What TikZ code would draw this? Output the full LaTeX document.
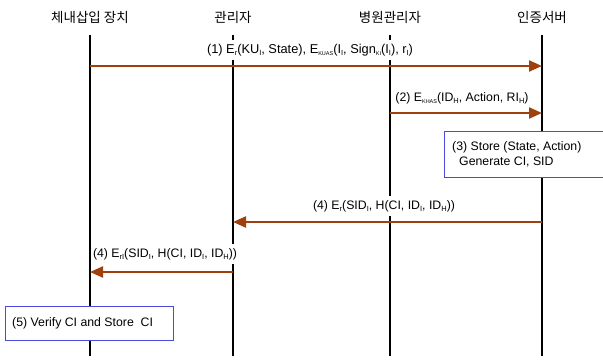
\documentclass[tikz,border=0pt]{standalone}
\usepackage{fontspec}
\setmainfont{Liberation Sans}
\newfontfamily\kor{Noto Sans CJK KR}
\usetikzlibrary{arrows.meta}
\definecolor{msgbrown}{HTML}{A0410D}
\definecolor{boxblue}{HTML}{4A4AE0}
\newcommand{\mysb}[1]{\raisebox{-0.3ex}{\fontsize{7.5}{8}\selectfont #1}}
\newcommand{\myssb}[1]{\raisebox{-0.3ex}{\fontsize{5.5}{6}\selectfont #1}}
\begin{document}
\begin{tikzpicture}[x=1pt,y=-1pt,
  lifeline/.style={line width=2pt,black},
  msg/.style={line width=2.2pt,msgbrown,-{Triangle[length=13pt,width=11pt]}},
  actor/.style={font=\kor\fontsize{13.5}{15}\selectfont},
  lbl/.style={font=\fontsize{12.3}{14}\selectfont,inner sep=0pt},
  msglbl/.style={lbl,fill=white,inner xsep=1pt,inner ysep=4pt},
  note/.style={draw=boxblue,line width=0.9pt,fill=white,inner sep=0pt},
]
\useasboundingbox (0,0) rectangle (603,360);
% actors
\node[actor] (h1) at (90,17) {체내삽입 장치};
\node[actor] (h2) at (233,17) {관리자};
\node[actor] (h3) at (390,17) {병원관리자};
\node[actor] (h4) at (542,17) {인증서버};
% lifelines
\foreach \i/\x in {1/90,2/233,3/390,4/542}{
  \coordinate (t\i) at (\x,35);
  \coordinate (b\i) at (\x,356);
  \draw[lifeline] (t\i) -- (b\i);
}
% message points
\coordinate (m1s) at (90,66);  \coordinate (m1e) at (542,66);
\coordinate (m2s) at (390,113); \coordinate (m2e) at (542,113);
\coordinate (m4s) at (542,222); \coordinate (m4e) at (233,222);
\coordinate (m5s) at (233,272); \coordinate (m5e) at (90,272);
% labels
\node[msglbl,font=\fontsize{12.8}{14}\selectfont] (l1) at (310,50) {(1) E\mysb{r}(KU\mysb{I}, State), E\myssb{KUAS}(I\mysb{I}, Sign\myssb{KI}(I\mysb{I}), r\mysb{I})};
\node[msglbl] (l2) at (462,98) {(2) E\myssb{KHAS}(ID\mysb{H}, Action, RI\mysb{H})};
\node[msglbl] (l4) at (384,206) {(4) E\mysb{r}(SID\mysb{I}, H(CI, ID\mysb{I}, ID\mysb{H}))};
\node[msglbl] (l5) at (165,254) {(4) E\mysb{rI}(SID\mysb{I}, H(CI, ID\mysb{I}, ID\mysb{H}))};
% messages
\draw[msg] (m1s) -- (m1e);
\draw[msg] (m2s) -- (m2e);
\draw[msg] (m4s) -- (m4e);
\draw[msg] (m5s) -- (m5e);
% notes
\node[note,minimum width=162pt,minimum height=46pt,anchor=north west] (n3) at (444,131) {};
\node[lbl,anchor=north west,align=left] (n3t) at (452,141) {(3) Store (State, Action)\\[1pt]\hspace{7pt}Generate CI, SID};
\node[note,minimum width=168pt,minimum height=34pt,anchor=north west] (n5) at (5,306) {};
\node[lbl,anchor=west] (n5t) at (12,323) {(5) Verify CI and Store\ \ CI};
\end{tikzpicture}
\end{document}
